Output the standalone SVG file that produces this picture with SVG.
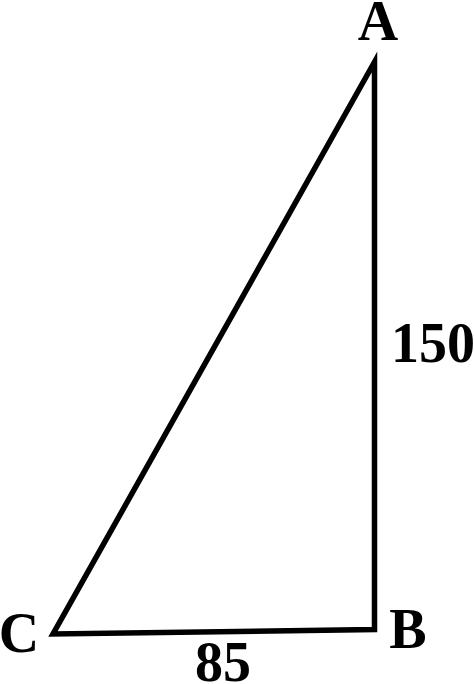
<svg xmlns="http://www.w3.org/2000/svg" width="474" height="684" viewBox="0 0 474 684">
<style>
.lbl{font-family:"Liberation Serif","Times New Roman",serif;font-weight:bold;font-size:56px;fill:#000;text-anchor:middle}
.edge{fill:none;stroke:#000;stroke-width:5.5;stroke-linejoin:miter;stroke-miterlimit:10}
</style>
<rect width="474" height="684" fill="#fff"/>
<g id="connectors">
<polygon class="edge" points="374.5,62 374.5,629.5 53,634"/>
</g>
<g id="node-A"><text class="lbl" x="378" y="40">A</text></g>
<g id="node-B"><text class="lbl" x="408" y="648">B</text></g>
<g id="node-C"><text class="lbl" x="19" y="652">C</text></g>
<g id="label-150"><text class="lbl" x="433" y="362">150</text></g>
<g id="label-85"><text class="lbl" x="223" y="681">85</text></g>
</svg>
